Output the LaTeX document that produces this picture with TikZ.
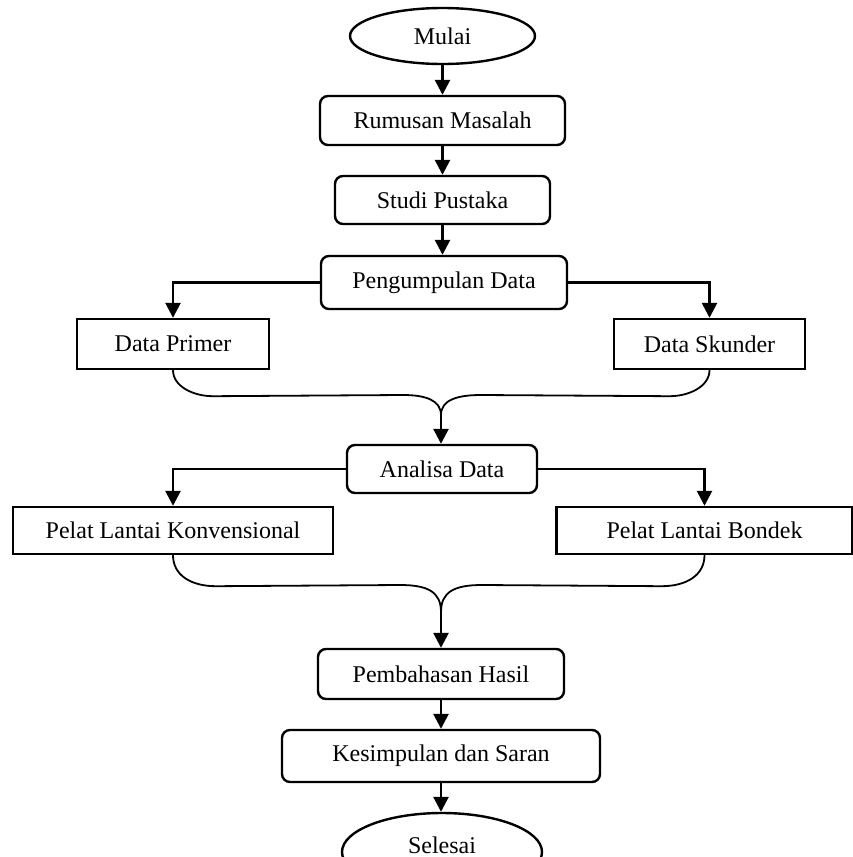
\documentclass[tikz,border=0pt]{standalone}
\usepackage{fontspec}
\setmainfont{Liberation Serif}
\usetikzlibrary{arrows.meta,shapes.geometric,calc}
\begin{document}
\begin{tikzpicture}[x=1pt,y=-1pt,
 font=\fontsize{24}{28}\selectfont,
 rbox/.style={draw,line width=2.4pt,rounded corners=8pt,inner sep=0pt},
 sbox/.style={draw,line width=2.4pt,inner sep=0pt},
 term/.style={draw,ellipse,line width=2.4pt,inner sep=0pt},
 arr/.style={line width=2.6pt,-{Triangle[length=15pt,width=15pt]}},
 merge/.style={line width=1.8pt}]
\clip (0,0) rectangle (853,857);
\node[term,minimum width=185pt,minimum height=56pt] (mulai) at (442.5,36) {Mulai};
\node[rbox,minimum width=245pt,minimum height=49pt] (rumusan) at (442.5,120.5) {Rumusan Masalah};
\node[rbox,minimum width=215pt,minimum height=48pt] (studi) at (442.5,200) {Studi Pustaka};
\node[rbox,minimum width=246pt,minimum height=53pt] (peng) at (444,282.5) {Pengumpulan Data};
\node[sbox,minimum width=192pt,minimum height=50pt] (primer) at (173,344) {Data Primer};
\node[sbox,minimum width=191pt,minimum height=50pt] (skunder) at (709.5,344) {Data Skunder};
\node[rbox,minimum width=190pt,minimum height=48pt] (analisa) at (442,469) {Analisa Data};
\node[sbox,minimum width=320pt,minimum height=47pt] (konv) at (173,530.5) {Pelat Lantai Konvensional};
\node[sbox,minimum width=296pt,minimum height=47pt] (bondek) at (704.5,530.5) {Pelat Lantai Bondek};
\node[rbox,minimum width=246pt,minimum height=50pt] (bahas) at (441,674) {Pembahasan Hasil};
\node[rbox,minimum width=318pt,minimum height=52pt] (simpul) at (441,756) {Kesimpulan dan Saran};
\node[term,minimum width=200pt,minimum height=78pt] (selesai) at (442,852) {\raisebox{14pt}{Selesai}};

\draw[arr] (mulai.south) -- (mulai.south |- rumusan.north);
\draw[arr] (rumusan.south) -- (rumusan.south |- studi.north);
\draw[arr] (studi.south) -- (studi.south |- peng.north);
\draw[arr] (peng.west) -| (primer.north);
\draw[arr] (peng.east) -| (skunder.north);

\coordinate (m1) at (441,415);
\draw[merge] (primer.south) .. controls +(0,16) and +(-20,0) .. ($(primer.south)+(40,26)$) -- (403,395) .. controls (425,395) and (441,400) .. (m1);
\draw[merge] (skunder.south) .. controls +(0,16) and +(20,0) .. ($(skunder.south)+(-40,26)$) -- (481,395) .. controls (457,395) and (441,400) .. (m1);
\draw[arr] (m1) -- (m1 |- analisa.north);

\draw[arr] (analisa.west) -| (konv.north);
\draw[arr] (analisa.east) -| (bondek.north);

\coordinate (m2) at (441,612);
\draw[merge] (konv.south) .. controls +(0,20) and +(-25,0) .. ($(konv.south)+(43,31)$) -- (400,585) .. controls (428,585) and (441,592) .. (m2);
\draw[merge] (bondek.south) .. controls +(0,20) and +(25,0) .. ($(bondek.south)+(-43,31)$) -- (482,585) .. controls (454,585) and (441,592) .. (m2);
\draw[arr] (m2) -- (m2 |- bahas.north);

\draw[arr] (bahas.south) -- (bahas.south |- simpul.north);
\draw[arr] (simpul.south) -- (simpul.south |- selesai.north);
\end{tikzpicture}
\end{document}
